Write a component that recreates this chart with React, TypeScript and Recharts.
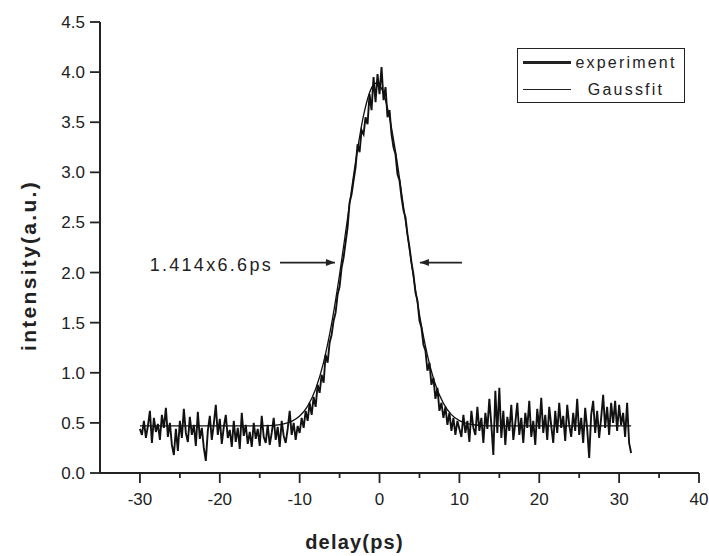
import { LineChart, Line, XAxis, YAxis, ReferenceLine, Legend } from 'recharts'

const FONT = '"Liberation Sans", Arial, sans-serif'
const INK = '#222'

// experiment trace, sampled every 0.25 ps from -30 ps
const expStart = -30
const expStep = 0.25

// -30 .. -10 ps
const expLeftBase = [
  0.44, 0.38, 0.52, 0.35, 0.47, 0.62, 0.30, 0.55, 0.41, 0.49,
  0.33, 0.58, 0.45, 0.65, 0.36, 0.50, 0.28, 0.18, 0.44, 0.22,
  0.52, 0.35, 0.64, 0.40, 0.31, 0.56, 0.38, 0.48, 0.27, 0.61,
  0.34, 0.45, 0.25, 0.12, 0.42, 0.57, 0.33, 0.49, 0.68, 0.38,
  0.54, 0.29, 0.46, 0.58, 0.35, 0.43, 0.26, 0.52, 0.31, 0.45,
  0.24, 0.60, 0.37, 0.48, 0.29, 0.41, 0.26, 0.50, 0.34, 0.44,
  0.27, 0.57, 0.36, 0.30, 0.48, 0.28, 0.40, 0.55, 0.33, 0.46,
  0.26, 0.52, 0.37, 0.30, 0.44, 0.62, 0.38, 0.50, 0.33, 0.47,
  0.40,
]

// -9.75 .. 0 ps
const expRise = [
  0.55, 0.45, 0.62, 0.52, 0.70, 0.58, 0.76, 0.66, 0.88, 0.80,
  0.98, 0.90, 1.18, 1.10, 1.30, 1.38, 1.52, 1.60, 1.78, 1.86,
  2.05, 2.15, 2.30, 2.45, 2.70, 2.78, 2.92, 3.05, 3.28, 3.20,
  3.42, 3.38, 3.55, 3.48, 3.78, 3.62, 3.95, 3.70, 3.98, 3.78,
]

// 0.25 .. 10 ps
const expFall = [
  4.05, 3.72, 3.85, 3.55, 3.62, 3.38, 3.25, 3.18, 2.98, 2.92,
  2.75, 2.62, 2.55, 2.38, 2.25, 2.10, 1.98, 1.80, 1.72, 1.52,
  1.45, 1.28, 1.22, 1.02, 1.10, 0.88, 0.95, 0.74, 0.85, 0.62,
  0.70, 0.55, 0.66, 0.48, 0.60, 0.42, 0.55, 0.38, 0.52, 0.44,
]

// 10.25 .. 31.5 ps
const expRightBase = [
  0.36, 0.58, 0.40, 0.52, 0.31, 0.62, 0.45, 0.38, 0.66, 0.42,
  0.55, 0.30, 0.60, 0.44, 0.74, 0.48, 0.18, 0.82, 0.40, 0.85,
  0.35, 0.62, 0.28, 0.56, 0.42, 0.68, 0.33, 0.50, 0.70, 0.38,
  0.55, 0.30, 0.60, 0.45, 0.72, 0.36, 0.52, 0.28, 0.64, 0.44,
  0.75, 0.40, 0.58, 0.33, 0.66, 0.47, 0.30, 0.62, 0.40, 0.70,
  0.45, 0.57, 0.32, 0.68, 0.48, 0.36, 0.60, 0.42, 0.74, 0.38,
  0.55, 0.30, 0.65, 0.44, 0.15, 0.58, 0.72, 0.40, 0.62, 0.35,
  0.55, 0.78, 0.45, 0.66, 0.38, 0.70, 0.50, 0.72, 0.42, 0.68,
  0.48, 0.60, 0.36, 0.70, 0.30, 0.20,
]

const experimentIntensity = [...expLeftBase, ...expRise, ...expFall, ...expRightBase]

// Gauss fit
const fitDelay = [
  -30, -16, -14, -13, -12, -11, -10, -9, -8, -7, -6, -5, -4, -3, -2, -1,
  -0.5, 0, 1, 2, 3, 4, 5, 6, 7, 8, 9, 10, 11, 12, 13, 14, 31.5,
]
const fitIntensity = [
  0.47, 0.47, 0.473, 0.477, 0.489, 0.515, 0.568, 0.667, 0.838, 1.107, 1.49, 1.982,
  2.544, 3.104, 3.568, 3.843, 3.889, 3.869, 3.641, 3.209, 2.659, 2.091, 1.58,
  1.174, 0.883, 0.695, 0.583, 0.523, 0.493, 0.479, 0.473, 0.47, 0.47,
]

const seriesNames = ['experiment', 'Gaussfit']
const xTicks = [-30, -25, -20, -15, -10, -5, 0, 5, 10, 15, 20, 25, 30, 35, 40]
const yTicks = [0, 0.5, 1, 1.5, 2, 2.5, 3, 3.5, 4, 4.5]

const fwhmLabel = '1.414x6.6ps'
const arrowLevel = 2.1

const expData = experimentIntensity.map((v, i) => ({ delay: expStart + i * expStep, intensity: v }))
const fitData = fitDelay.map((d, i) => ({ delay: d, intensity: fitIntensity[i] }))

function DelayTick(props: any) {
  const { x, y, payload } = props
  const v = payload.value
  const major = v % 10 === 0
  return (
    <g>
      <line x1={x} x2={x} y1={y} y2={y + (major ? 10 : 5)} stroke={INK} strokeWidth={1.8} />
      {major && (
        <text x={x} y={y + 26} textAnchor="middle" dominantBaseline="central"
          fontFamily={FONT} fontSize={17} fill={INK}>
          {v}
        </text>
      )}
    </g>
  )
}

function arrowShape(text?: string) {
  return (p: any) => {
    const { x1, y1, x2, y2 } = p
    const dir = x2 > x1 ? 1 : -1
    return (
      <g>
        <line x1={x1} y1={y1} x2={x2} y2={y2} stroke={INK} strokeWidth={1.7} />
        <polygon
          points={`${x2},${y2} ${x2 - dir * 9},${y2 - 3.5} ${x2 - dir * 9},${y2 + 3.5}`}
          fill={INK}
        />
        {text && (
          <text x={x1 - 7} y={y1 + 2} textAnchor="end" dominantBaseline="central"
            fontFamily={FONT} fontSize={18} letterSpacing={2.3} fill={INK}>
            {text}
          </text>
        )}
      </g>
    )
  }
}

const legendWidths: Record<string, number> = { experiment: 3, Gaussfit: 1.3 }

function renderLegend(props: any) {
  const entries = [...(props.payload || [])].sort(
    (a: any, b: any) => seriesNames.indexOf(a.value) - seriesNames.indexOf(b.value),
  )
  return (
    <div style={{
      border: `1.5px solid ${INK}`, width: 168, height: 55, boxSizing: 'border-box',
      padding: '3.5px 3px 0 5px', fontFamily: FONT, fontSize: 16, letterSpacing: 2.2,
      color: INK, background: '#fff',
    }}>
      {entries.map((e: any) => (
        <div key={e.value} style={{ display: 'flex', alignItems: 'center', height: 20, marginBottom: 7 }}>
          <div style={{ width: 48, height: 0, borderTop: `${legendWidths[e.value]}px solid ${INK}` }} />
          <div style={{ flex: 1, textAlign: 'center', whiteSpace: 'nowrap' }}>{e.value}</div>
        </div>
      ))}
    </div>
  )
}

function YTitle(props: any) {
  const { viewBox } = props
  const cx = viewBox.x + 28
  const cy = viewBox.y + viewBox.height / 2 + 18
  return (
    <text x={cx} y={cy} transform={`rotate(-90, ${cx}, ${cy})`} textAnchor="middle"
      dominantBaseline="central" fontFamily={FONT} fontSize={21} letterSpacing={2.3}
      fontWeight="bold" fill={INK}>
      intensity(a.u.)
    </text>
  )
}

function XTitle(props: any) {
  const { viewBox } = props
  const cx = viewBox.x + viewBox.width / 2 - 45
  const cy = viewBox.y + 69
  return (
    <text x={cx} y={cy} textAnchor="middle" dominantBaseline="central"
      fontFamily={FONT} fontSize={20} letterSpacing={1.2} fontWeight="bold" fill={INK}>
      delay(ps)
    </text>
  )
}

export default function App() {
  return (
    <div style={{ position: 'absolute', left: 0, top: 0, background: '#fff' }}>
      <LineChart width={709} height={556} margin={{ top: 22, right: 10, bottom: 0, left: 0 }}>
        <XAxis
          dataKey="delay" type="number" domain={[-35, 40]} ticks={xTicks}
          height={83} tickSize={0} tickMargin={0} tickLine={false}
          axisLine={{ stroke: INK, strokeWidth: 2 }} tick={<DelayTick />}
          label={<XTitle />} interval={0}
        />
        <YAxis
          type="number" domain={[0, 4.5]} ticks={yTicks} width={100}
          tickSize={10} tickMargin={5} interval={0}
          tickFormatter={(v: number) => v.toFixed(1)}
          tick={{ fontFamily: FONT, fontSize: 17, fill: INK }}
          tickLine={{ stroke: INK, strokeWidth: 1.8 }}
          axisLine={{ stroke: INK, strokeWidth: 2 }}
          label={<YTitle />}
        />
        <Legend
          layout="vertical" align="center" verticalAlign="middle"
          content={renderLegend}
          wrapperStyle={{ position: 'absolute', left: 517, top: 48, width: 168 }}
        />
        <Line
          data={expData} dataKey="intensity" name="experiment" type="linear"
          stroke="#111" strokeWidth={1.9} dot={false} isAnimationActive={false}
        />
        <Line
          data={fitData} dataKey="intensity" name="Gaussfit" type="monotone"
          stroke="#111" strokeWidth={1.3} dot={false} isAnimationActive={false}
        />
        <ReferenceLine
          segment={[{ x: -12.46, y: arrowLevel }, { x: -5.58, y: arrowLevel }]}
          shape={arrowShape(fwhmLabel)}
        />
        <ReferenceLine
          segment={[{ x: 10.32, y: arrowLevel }, { x: 5.06, y: arrowLevel }]}
          shape={arrowShape()}
        />
      </LineChart>
    </div>
  )
}
